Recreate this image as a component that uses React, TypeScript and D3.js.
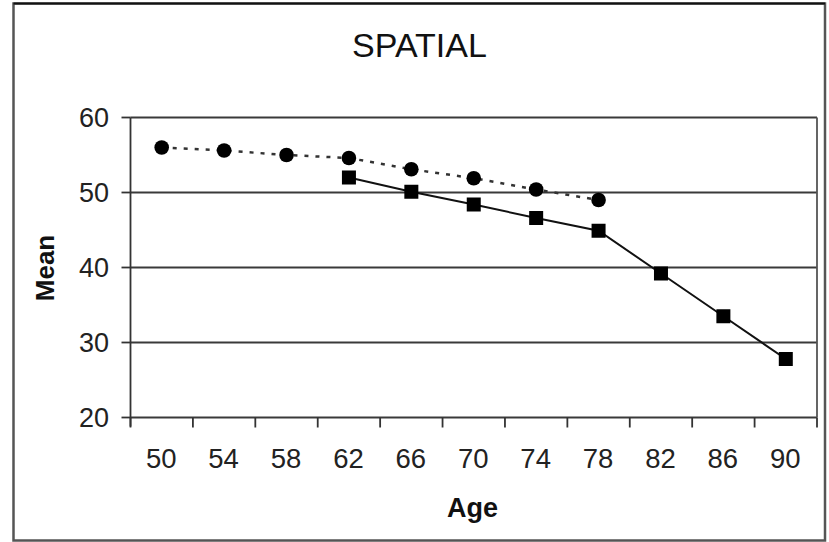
import React from "react";
import * as d3 from "d3";

// Age categories on the x axis
const ages = ["50", "54", "58", "62", "66", "70", "74", "78", "82", "86", "90"];
// Younger cohort (dotted line, circle markers)
const cohortAAges = ["50", "54", "58", "62", "66", "70", "74", "78"];
const cohortAMeans = [56.0, 55.6, 55.0, 54.6, 53.1, 51.9, 50.4, 49.0];
// Older cohort (solid line, square markers)
const cohortBAges = ["62", "66", "70", "74", "78", "82", "86", "90"];
const cohortBMeans = [52.0, 50.1, 48.4, 46.6, 44.9, 39.2, 33.5, 27.8];
// Y axis ticks
const yTicks = [20, 30, 40, 50, 60];

const W = 829;
const H = 542;
const left = 130.5;
const right = 817;
const top = 117.5;
const bottom = 417.5;
const FONT = "'Liberation Sans', Arial, Helvetica, sans-serif";

export default function App() {
  const x = d3.scaleBand<string>().domain(ages).range([left, right]).padding(0);
  const y = d3.scaleLinear().domain([20, 60]).range([bottom, top]);
  const cx = (a: string) => (x(a) as number) + x.bandwidth() / 2;

  const seriesA = cohortAAges.map((a, i) => ({ a, v: cohortAMeans[i] }));
  const seriesB = cohortBAges.map((a, i) => ({ a, v: cohortBMeans[i] }));

  const line = d3
    .line<{ a: string; v: number }>()
    .x((d) => cx(d.a))
    .y((d) => y(d.v));

  // category boundaries for x tick marks
  const boundaries = [...ages.map((a) => x(a) as number), right];

  const sq = 14;

  return (
    <svg
      width={W}
      height={H}
      style={{ position: "absolute", left: 0, top: 0, background: "#fff" }}
      fontFamily={FONT}
    >
      <rect x={0} y={0} width={W} height={H} fill="#fff" />
      {/* outer frame */}
      <rect
        x={13.5}
        y={3.5}
        width={811.5}
        height={537}
        fill="none"
        stroke="#555"
        strokeWidth={2.5}
      />
      <line x1={13.5} x2={825} y1={3.5} y2={3.5} stroke="#111" strokeWidth={2} />

      {/* title */}
      <text x={419.5} y={57} textAnchor="middle" fontSize={34} fill="#111">
        SPATIAL
      </text>

      {/* horizontal grid lines */}
      {yTicks.map((t) => (
        <line
          key={"g" + t}
          x1={left}
          x2={right}
          y1={y(t)}
          y2={y(t)}
          stroke="#3a3a3a"
          strokeWidth={1.8}
        />
      ))}
      {/* plot right edge */}
      <line x1={right} x2={right} y1={top} y2={bottom} stroke="#555" strokeWidth={1.8} />

      {/* y axis */}
      <line x1={left} x2={left} y1={top} y2={bottom + 9} stroke="#333" strokeWidth={1.8} />
      {yTicks.map((t) => (
        <g key={"y" + t}>
          <line x1={left - 9} x2={left} y1={y(t)} y2={y(t)} stroke="#333" strokeWidth={1.8} />
          <text
            x={109}
            y={y(t) + 9.5}
            textAnchor="end"
            fontSize={27}
            fill="#222"
          >
            {t}
          </text>
        </g>
      ))}

      {/* x axis ticks */}
      {boundaries.map((b, i) => (
        <line
          key={"xt" + i}
          x1={b}
          x2={b}
          y1={bottom}
          y2={bottom + 10}
          stroke="#333"
          strokeWidth={1.8}
        />
      ))}
      {ages.map((a) => (
        <text
          key={"xl" + a}
          x={cx(a) - 0.5}
          y={468}
          textAnchor="middle"
          fontSize={27.5}
          fill="#222"
        >
          {a}
        </text>
      ))}

      {/* axis titles */}
      <text x={472.5} y={516.5} textAnchor="middle" fontSize={27} fontWeight="bold" fill="#111">
        Age
      </text>
      <text
        transform={`translate(54,268) rotate(-90)`}
        textAnchor="middle"
        fontSize={26}
        fontWeight="bold"
        fill="#111"
      >
        Mean
      </text>

      {/* younger cohort: dotted line with circles */}
      <path
        d={line(seriesA) || ""}
        fill="none"
        stroke="#333"
        strokeWidth={2.5}
        strokeDasharray="4 7"
      />
      {seriesA.map((d) => (
        <circle key={"c" + d.a} cx={cx(d.a)} cy={y(d.v)} r={7.3} fill="#000" />
      ))}

      {/* older cohort: solid line with squares */}
      <path d={line(seriesB) || ""} fill="none" stroke="#111" strokeWidth={2} />
      {seriesB.map((d) => (
        <rect
          key={"s" + d.a}
          x={cx(d.a) - sq / 2}
          y={y(d.v) - sq / 2}
          width={sq}
          height={sq}
          fill="#000"
        />
      ))}
    </svg>
  );
}
